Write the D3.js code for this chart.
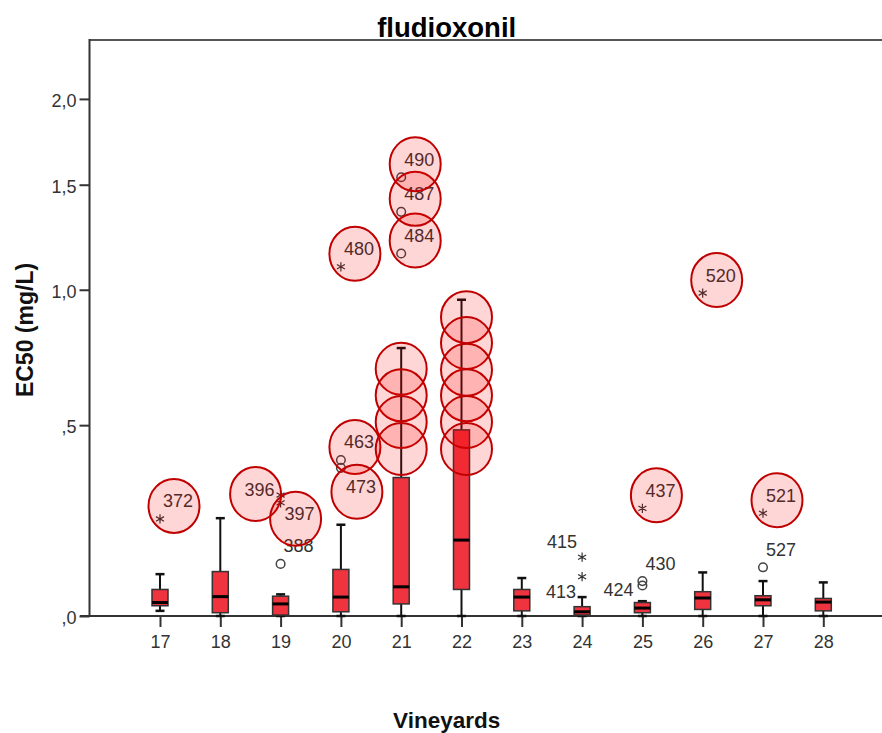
<!DOCTYPE html>
<html>
<head>
<meta charset="utf-8">
<script src="https://cdn.jsdelivr.net/npm/d3@7"></script>
<style>
  body { margin: 0; background: #fff; }
  text { font-family: "Liberation Sans", Arial, sans-serif; }
</style>
</head>
<body>
<svg id="chart" width="882" height="733"></svg>
<script>
// ---- data ----
const vineyards   = [17, 18, 19, 20, 21, 22, 23, 24, 25, 26, 27, 28];
const whiskerLow  = [0.011, 0, 0, 0, 0, 0, 0, 0, 0, 0, 0, 0];
const q1          = [0.022, 0.007, 0.002, 0.009, 0.026, 0.058, 0.011, 0.002, 0.007, 0.014, 0.022, 0.011];
const median      = [0.029, 0.042, 0.026, 0.041, 0.064, 0.175, 0.041, 0.009, 0.017, 0.039, 0.035, 0.030];
const q3          = [0.058, 0.099, 0.043, 0.104, 0.342, 0.485, 0.058, 0.020, 0.029, 0.053, 0.044, 0.038];
const whiskerHigh = [0.093, 0.231, 0.047, 0.214, 0.767, 0.958, 0.084, 0.041, 0.032, 0.097, 0.077, 0.074];

// outliers: case id, vineyard, EC50, marker ("o" = outlier, "*" = extreme)
const outlierIds      = [372, 396, 397, 388, 463, 473, 480, 484, 487, 490, 415, 413, 424, 430, 437, 520, 521, 527];
const outlierVineyard = [17, 19, 19, 19, 20, 20, 20, 21, 21, 21, 24, 24, 25, 25, 25, 26, 27, 27];
const outlierValue    = [0.229, 0.293, 0.272, 0.117, 0.393, 0.370, 1.10, 1.16, 1.36, 1.54, 0.133, 0.087, 0.067, 0.077, 0.257, 0.986, 0.244, 0.109];
const outlierKind     = ["*", "*", "*", "o", "o", "o", "*", "o", "o", "o", "*", "*", "o", "o", "*", "*", "*", "o"];

// cases ringed in red
const ringedIds = [372, 396, 397, 463, 473, 480, 484, 487, 490, 437, 520, 521];
// rings placed along the long whiskers of vineyards 21 and 22
const ringedWhisker21 = [0.691, 0.598, 0.510, 0.426];
const ringedWhisker22 = [0.887, 0.786, 0.687, 0.598, 0.510, 0.426];

const yTicks = [0, 0.5, 1.0, 1.5, 2.0];
const yTickLabels = [",0", ",5", "1,0", "1,5", "2,0"];

// ---- layout ----
const svg = d3.select("#chart");
const frame = { left: 89.5, right: 882, top: 40, bottom: 616 };

const x = d3.scalePoint().domain(vineyards).range([160, 823.3]);
const y = d3.scaleSymlog().constant(1).domain([0, 2.4]).range([frame.bottom, frame.top]);

// label placement around a point (dx, dy of label centre)
const labelOffset = {
  396: [-21, -6], 397: [19, 11], 473: [20, 19],
  415: [-20, -16], 413: [-21, 15], 424: [-24, 4]
};
const defaultOffset = [18, -18];

const boxFill = "#EF333F";

// frame: top border
svg.append("line")
  .attr("x1", frame.left).attr("x2", frame.right)
  .attr("y1", frame.top).attr("y2", frame.top)
  .attr("stroke", "#555").attr("stroke-width", 2);

// y axis
const yAxis = d3.axisLeft(y).tickValues(yTicks)
  .tickFormat((d, i) => yTickLabels[i]).tickSize(10).tickPadding(3);
const gy = svg.append("g").attr("transform", `translate(${frame.left},0)`).call(yAxis);
gy.select(".domain").remove();
gy.selectAll(".tick line").attr("stroke", "#333").attr("stroke-width", 2);
gy.selectAll(".tick text").attr("font-size", 18).attr("fill", "#333").attr("dy", "0.42em")
  .style("font-family", '"Liberation Sans", Arial, sans-serif');
svg.append("line")
  .attr("x1", frame.left).attr("x2", frame.left)
  .attr("y1", frame.top - 1).attr("y2", frame.bottom)
  .attr("stroke", "#333").attr("stroke-width", 2);

// x axis
const xAxis = d3.axisBottom(x).tickSize(11).tickPadding(8);
const gx = svg.append("g").attr("transform", `translate(0,${frame.bottom})`).call(xAxis);
gx.select(".domain").remove();
gx.selectAll(".tick line").attr("stroke", "#333").attr("stroke-width", 2);
gx.selectAll(".tick text").attr("font-size", 18).attr("fill", "#333")
  .style("font-family", '"Liberation Sans", Arial, sans-serif');
svg.append("line")
  .attr("x1", 80).attr("x2", frame.right)
  .attr("y1", frame.bottom).attr("y2", frame.bottom)
  .attr("stroke", "#333").attr("stroke-width", 2);

// boxes
const boxW = 16, capW = 9;
const boxes = vineyards.map((v, i) => ({
  v, lo: whiskerLow[i], q1: q1[i], med: median[i], q3: q3[i], hi: whiskerHigh[i]
}));
const gb = svg.append("g");
const bx = gb.selectAll("g.box").data(boxes).join("g").attr("class", "box")
  .attr("transform", d => `translate(${x(d.v)},0)`);
bx.append("line").attr("x1", 0).attr("x2", 0)
  .attr("y1", d => y(d.q3)).attr("y2", d => y(d.hi))
  .attr("stroke", "#111").attr("stroke-width", 2);
bx.append("line").attr("x1", 0).attr("x2", 0)
  .attr("y1", d => y(d.q1)).attr("y2", d => y(d.lo))
  .attr("stroke", "#111").attr("stroke-width", 2);
bx.append("line").attr("x1", -capW / 2).attr("x2", capW / 2)
  .attr("y1", d => y(d.hi)).attr("y2", d => y(d.hi))
  .attr("stroke", "#111").attr("stroke-width", 2.5);
bx.append("line").attr("x1", -capW / 2).attr("x2", capW / 2)
  .attr("y1", d => y(d.lo)).attr("y2", d => y(d.lo))
  .attr("stroke", "#111").attr("stroke-width", 2.5);
bx.append("rect")
  .attr("x", -boxW / 2).attr("width", boxW)
  .attr("y", d => y(d.q3)).attr("height", d => y(d.q1) - y(d.q3))
  .attr("fill", boxFill).attr("stroke", "#333").attr("stroke-width", 1.5);
bx.append("line").attr("x1", -boxW / 2).attr("x2", boxW / 2)
  .attr("y1", d => y(d.med)).attr("y2", d => y(d.med))
  .attr("stroke", "#000").attr("stroke-width", 3);

// outliers
const outliers = outlierIds.map((id, i) => ({
  id, v: outlierVineyard[i], val: outlierValue[i], kind: outlierKind[i]
}));
const go = svg.append("g");
const star = d3.symbol().type(d3.symbolAsterisk).size(60);
outliers.forEach(d => {
  const px = x(d.v), py = y(d.val);
  if (d.kind === "o") {
    go.append("circle").attr("cx", px).attr("cy", py).attr("r", 4.3)
      .attr("fill", "none").attr("stroke", "#444").attr("stroke-width", 1.5);
  } else {
    go.append("path").attr("d", star()).attr("transform", `translate(${px},${py})`)
      .attr("fill", "none").attr("stroke", "#333").attr("stroke-width", 1.2);
  }
  const off = labelOffset[d.id] || defaultOffset;
  d.lx = px + off[0];
  d.ly = py + off[1];
  go.append("text").attr("x", d.lx).attr("y", d.ly).attr("dy", "0.36em")
    .attr("text-anchor", "middle").attr("font-size", 18).attr("fill", "#333")
    .text(d.id);
});

// red rings
const ringFill = "rgba(255,0,0,0.16)", ringStroke = "#C00000";
const gr = svg.append("g");
outliers.filter(d => ringedIds.includes(d.id)).forEach(d => {
  gr.append("ellipse").attr("cx", d.lx - 4).attr("cy", d.ly + 5)
    .attr("rx", 25.5).attr("ry", 27)
    .attr("fill", ringFill).attr("stroke", ringStroke).attr("stroke-width", 2);
});
[[21, ringedWhisker21, 0], [22, ringedWhisker22, 5]].forEach(([v, vals, nudge]) => {
  vals.forEach(val => {
    gr.append("ellipse").attr("cx", x(v) + nudge).attr("cy", y(val))
      .attr("rx", 25.5).attr("ry", 26)
      .attr("fill", ringFill).attr("stroke", ringStroke).attr("stroke-width", 2);
  });
});

// titles
svg.append("text").attr("x", 446.7).attr("y", 36.5).attr("text-anchor", "middle")
  .attr("font-size", 27.5).attr("font-weight", "bold").attr("fill", "#000")
  .text("fludioxonil");
svg.append("text").attr("x", 446.7).attr("y", 728).attr("text-anchor", "middle")
  .attr("font-size", 22.5).attr("font-weight", "bold").attr("fill", "#111")
  .text("Vineyards");
svg.append("text").attr("transform", "translate(33,330) rotate(-90)")
  .attr("text-anchor", "middle")
  .attr("font-size", 23).attr("font-weight", "bold").attr("fill", "#111")
  .text("EC50 (mg/L)");
</script>
</body>
</html>
